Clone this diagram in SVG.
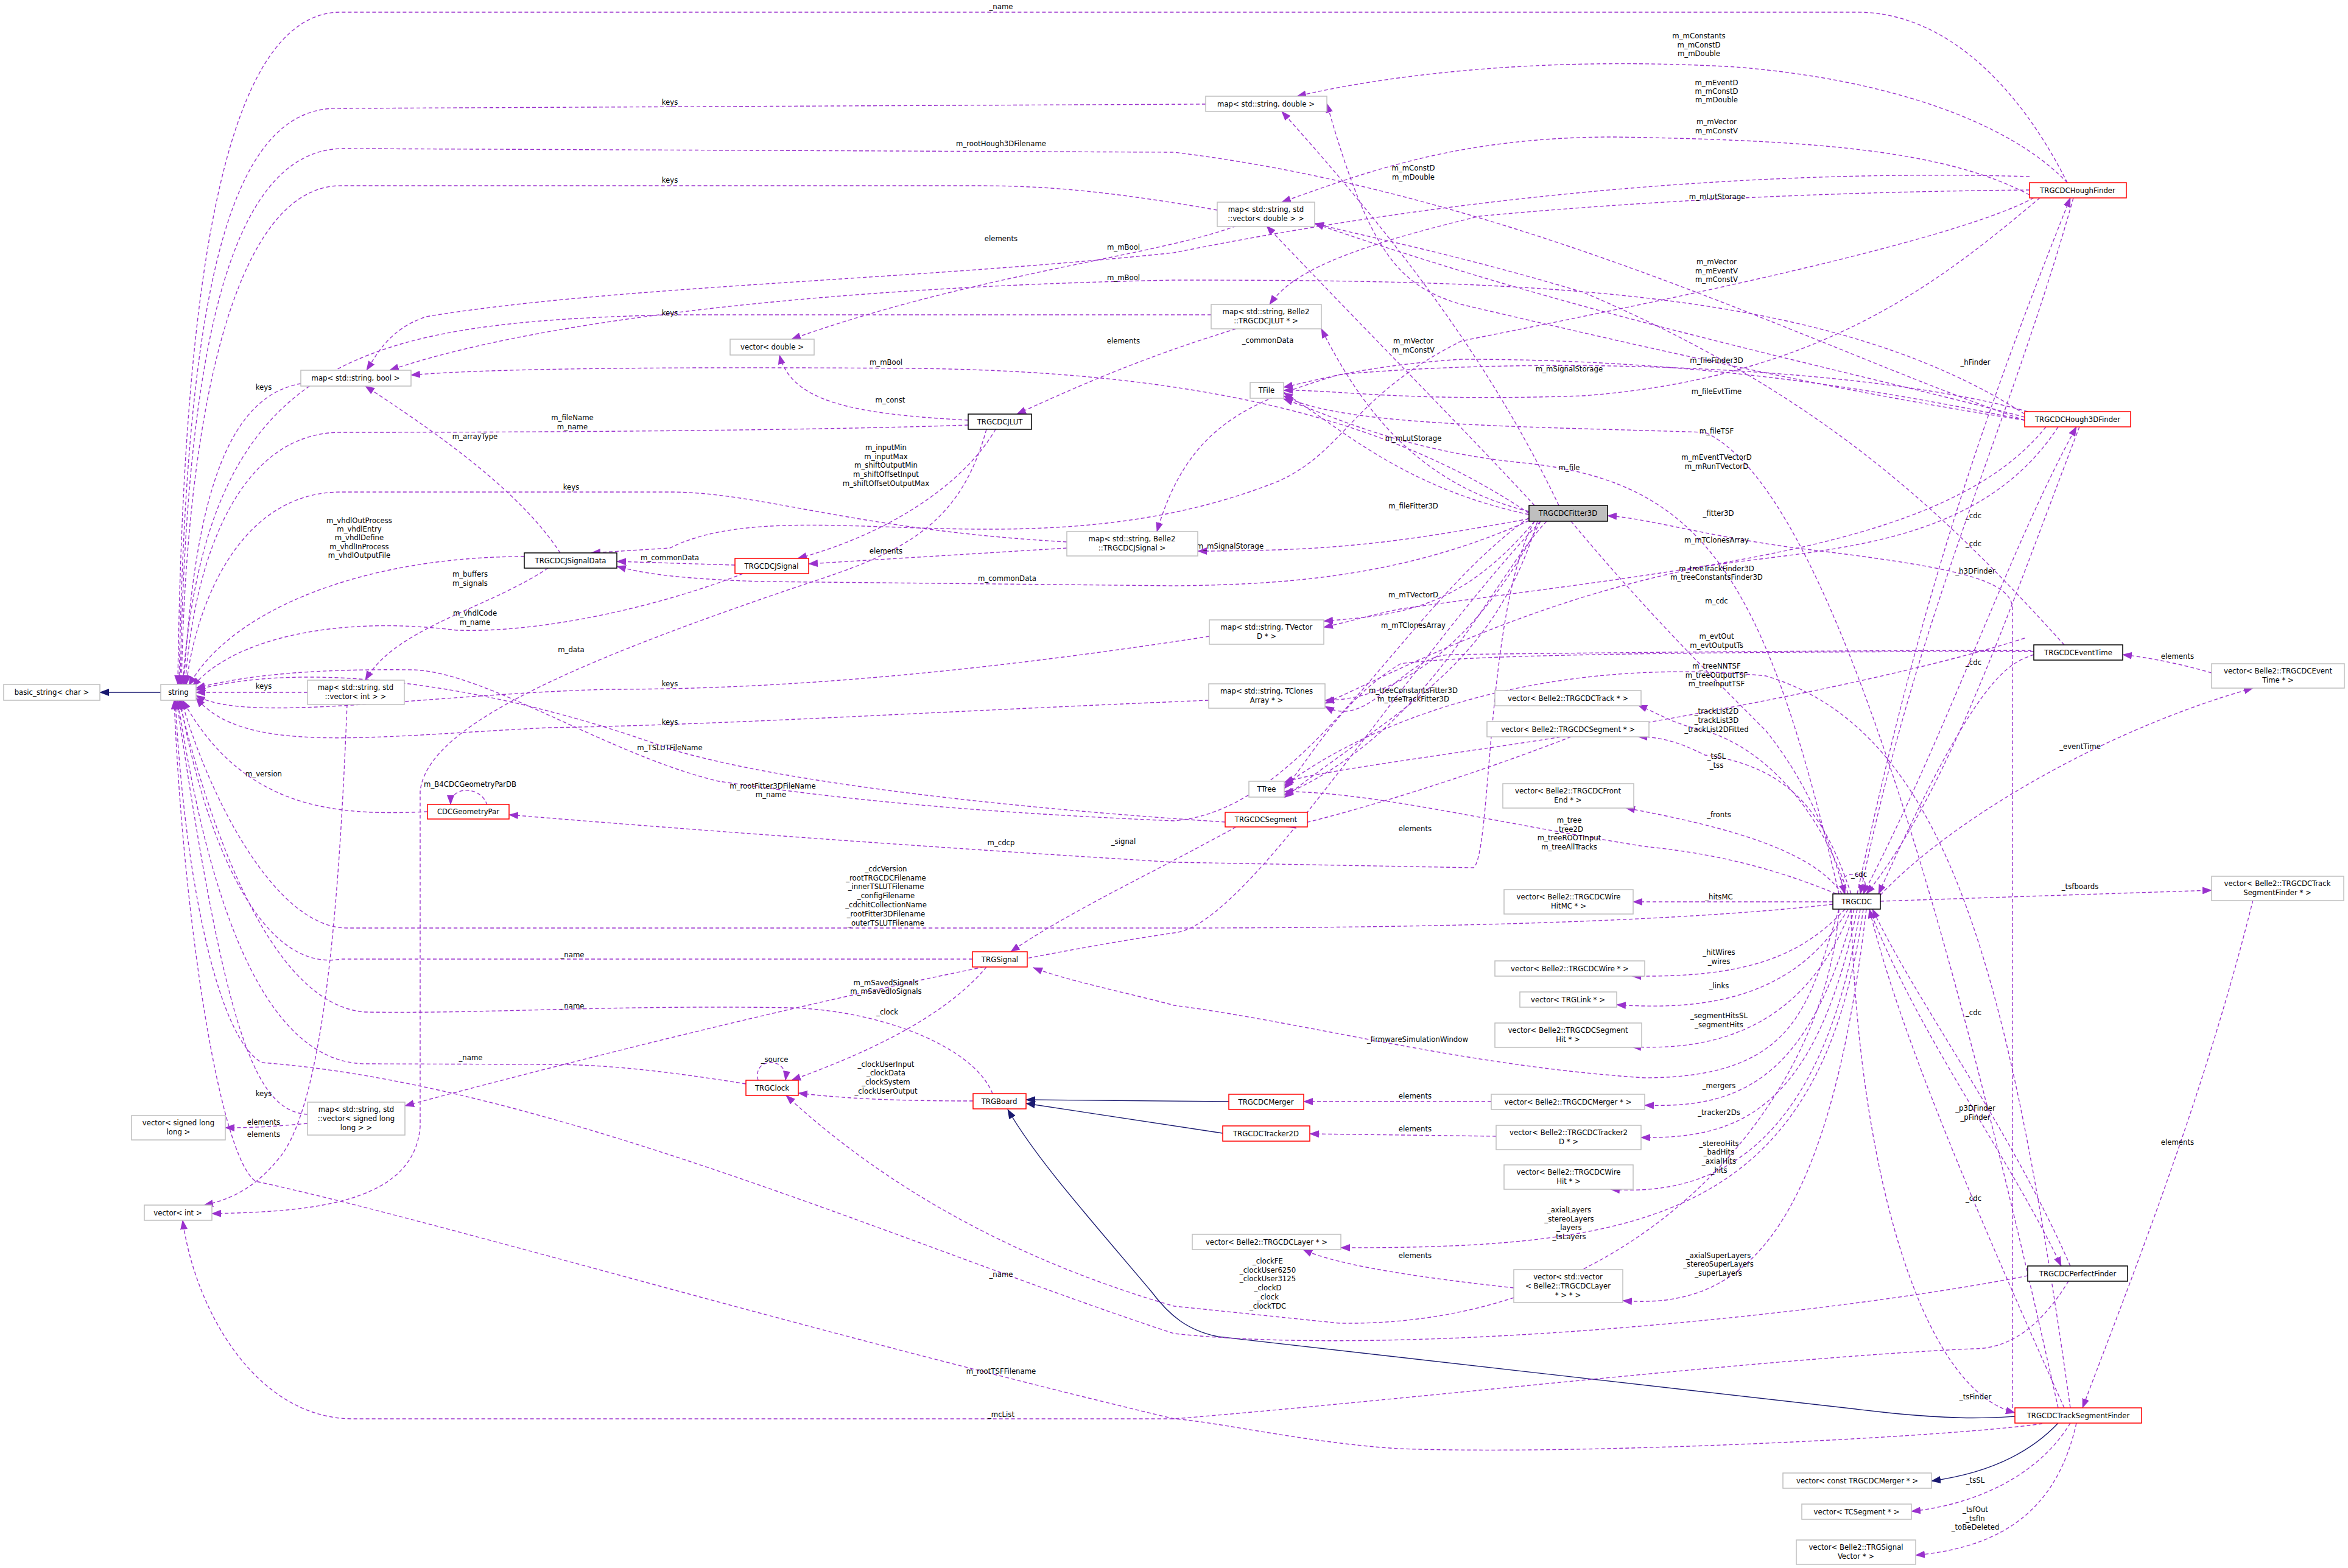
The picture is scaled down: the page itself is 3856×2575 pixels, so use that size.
<svg xmlns="http://www.w3.org/2000/svg" width="3856" height="2575" viewBox="0 0 3856 2575">
<style>
.n rect{fill:#fff;stroke:#bfbfbf;stroke-width:1.5}
.n.b rect{stroke:#000}
.n.r rect{stroke:#ff0000}
.n.g rect{fill:#bfbfbf;stroke:#000}
text{font-family:"DejaVu Sans Condensed","DejaVu Sans",sans-serif;font-size:13px;text-anchor:middle;fill:#000}
#edges path{fill:none;stroke:#9a32cd;stroke-width:1.4;stroke-dasharray:6,4;marker-end:url(#ap)}
#edges path.inh{stroke:#191970;stroke-dasharray:none;marker-end:url(#an)}
</style>
<defs>
<marker id="ap" markerUnits="userSpaceOnUse" markerWidth="16" markerHeight="12" refX="15" refY="6" orient="auto"><path d="M0,0 L16,6 L0,12 z" fill="#9a32cd"/></marker>
<marker id="an" markerUnits="userSpaceOnUse" markerWidth="16" markerHeight="12" refX="15" refY="6" orient="auto"><path d="M0,0 L16,6 L0,12 z" fill="#191970"/></marker>
</defs>
<rect width="3856" height="2575" fill="#fff"/>
<g id="edges">
<path class="inh" d="M264,1137 L164,1137"/>
<path class="inh" d="M2018,1809 L1685,1806"/>
<path class="inh" d="M2008,1861 L1685,1812"/>
<path class="inh" d="M3309,2326 C3250,2330 3200,2330 3100,2320 L2000,2195 C1950,2185 1920,2160 1890,2120 C1780,1990 1700,1900 1655,1822"/>
<path class="inh" d="M3380,2337 C3330,2390 3260,2420 3172,2432"/>
<path d="M3395,300 C3320,150 3200,20 3050,20 L560,20 C360,20 300,500 292,1124"/>
<path d="M1980,171 L560,178 C370,170 305,500 294,1124"/>
<path d="M3325,690 C3000,580 2500,320 1928,250 L560,244 C370,250 305,600 296,1124"/>
<path d="M1999,345 C1800,310 1700,305 1600,305 L560,305 C380,305 305,700 298,1124"/>
<path d="M1989,517 L1100,517 C600,530 340,580 300,1124"/>
<path d="M494,630 C380,650 320,800 302,1124"/>
<path d="M1590,698 C1400,705 1000,710 560,710 C400,710 320,900 304,1124"/>
<path d="M1752,890 C1400,870 1250,808 1100,808 L560,808 C390,808 320,1000 306,1124"/>
<path d="M861,914 C600,914 380,1000 310,1126"/>
<path d="M1220,942 C1100,990 900,1040 750,1035 C550,1010 380,1050 316,1128"/>
<path d="M505,1137 L322,1137"/>
<path d="M1986,1045 C1500,1120 1200,1132 1000,1132 C700,1140 400,1190 322,1142"/>
<path d="M1985,1150 C1500,1170 1200,1190 900,1195 C600,1210 400,1240 322,1146"/>
<path d="M2012,1350 C1700,1330 1300,1290 1100,1230 C800,1120 500,1085 322,1133"/>
<path d="M702,1333 C550,1340 400,1330 300,1150"/>
<path d="M2511,850 C2300,1000 2150,1330 1928,1348 C1500,1330 1300,1300 1180,1283 C1000,1240 800,1105 680,1100 C500,1098 400,1110 322,1130"/>
<path d="M3010,1485 C2700,1520 2200,1524 1928,1524 L570,1524 C450,1524 340,1300 298,1150"/>
<path d="M1597,1575 L560,1575 C420,1600 330,1350 296,1150"/>
<path d="M1630,1796 C1600,1720 1450,1660 1300,1655 C1000,1650 800,1665 600,1662 C430,1650 330,1300 294,1150"/>
<path d="M1225,1780 C1100,1760 1000,1748 900,1748 L600,1747 C410,1745 330,1400 292,1150"/>
<path d="M505,1830 C420,1825 370,1700 290,1150"/>
<path d="M3330,2095 C3000,2160 2300,2230 1928,2190 C1500,2050 900,1780 430,1745 C350,1700 300,1400 288,1150"/>
<path d="M3354,2338 C3200,2360 2600,2390 2297,2379 C2150,2370 2000,2335 1928,2330 C1300,2180 700,2000 420,1940 C360,1900 300,1500 286,1150"/>
<path d="M3397,2104 C3350,2180 3300,2215 3240,2215 C2900,2230 2300,2300 1928,2330 L580,2330 C420,2330 320,2150 300,2004"/>
<path d="M570,1157 C560,1400 540,1800 460,1900 C420,1950 380,1970 335,1979"/>
<path d="M1620,705 C1580,850 1500,900 1350,950 C900,1100 700,1200 690,1300 L690,1850 C680,1980 500,1990 348,1993"/>
<path d="M505,1845 C450,1850 420,1852 370,1852"/>
<path d="M2530,856 C2300,1100 2050,1520 1928,1532 C1600,1580 1100,1700 665,1816"/>
<path d="M800,1322 C790,1290 740,1290 740,1321"/>
<path d="M2520,856 C2440,1000 2450,1400 2420,1425 L1928,1416 C1500,1390 1100,1360 836,1338"/>
<path d="M2030,1358 C1900,1430 1750,1500 1660,1563"/>
<path d="M1620,1588 C1560,1660 1450,1720 1300,1774"/>
<path d="M1245,1774 C1235,1735 1295,1735 1290,1774"/>
<path d="M1598,1808 C1500,1808 1400,1806 1311,1795"/>
<path d="M3020,1493 C2970,1650 2950,1770 2700,1770 C2400,1750 2150,1680 1928,1651 C1850,1630 1750,1610 1697,1589"/>
<path d="M2580,1210 C2400,1280 2200,1340 2113,1358"/>
<path d="M3016,1468 C2900,1420 2800,1400 2700,1390 C2450,1350 2250,1300 2109,1300"/>
<path d="M2540,856 C2450,950 2350,1200 2109,1305"/>
<path d="M3340,1070 C2800,1070 2400,1075 2300,1090 C2200,1150 2150,1250 2109,1295"/>
<path d="M3400,2312 C3300,1600 3200,1200 2900,1110 C2600,1080 2300,1150 2109,1290"/>
<path d="M3325,1048 C3100,1120 2700,1190 2500,1220 C2300,1250 2150,1270 2109,1285"/>
<path d="M3040,1468 C3000,1350 2950,1260 2800,1240 C2760,1220 2730,1210 2690,1210"/>
<path d="M3035,1468 C2990,1330 2900,1230 2800,1200 C2750,1190 2720,1170 2690,1158"/>
<path d="M3025,1468 C2980,1400 2850,1360 2670,1327"/>
<path d="M3010,1481 L2682,1481"/>
<path d="M3088,1480 L3632,1462"/>
<path d="M3030,1493 C2950,1580 2850,1605 2680,1603"/>
<path d="M3035,1493 C2950,1640 2800,1660 2655,1650"/>
<path d="M3040,1493 C2960,1700 2800,1725 2680,1719"/>
<path d="M3045,1493 C2970,1780 2850,1820 2701,1815"/>
<path d="M3050,1493 C2980,1830 2850,1870 2695,1868"/>
<path d="M3055,1493 C2990,1900 2800,1965 2645,1953"/>
<path d="M3060,1493 C2990,2000 2700,2050 2202,2049"/>
<path d="M3065,1493 C3000,2050 2850,2150 2665,2136"/>
<path d="M2486,2115 C2350,2100 2200,2080 2140,2052"/>
<path d="M2449,1809 L2141,1809"/>
<path d="M2457,1866 L2151,1862"/>
<path d="M3070,1493 C3150,1700 3300,1900 3385,2079"/>
<path d="M3400,2079 C3300,1850 3150,1650 3075,1493"/>
<path d="M3390,2312 C3250,2000 3120,1700 3070,1493"/>
<path d="M3040,1493 C3050,1900 3150,2280 3309,2320"/>
<path d="M3700,1478 C3620,1800 3500,2100 3420,2312"/>
<path d="M3400,2337 C3350,2420 3250,2470 3139,2482"/>
<path d="M3410,2337 C3380,2470 3300,2540 3146,2554"/>
<path d="M3030,1468 C3000,1430 3080,1420 3060,1468"/>
<path d="M3088,1470 C3200,1350 3450,1200 3700,1130"/>
<path d="M3632,1105 C3580,1090 3530,1080 3486,1075"/>
<path d="M3390,1059 C3200,850 3000,650 2600,480 C2400,420 2250,390 2159,367"/>
<path d="M3340,1075 C3300,1090 3250,1100 3085,1468"/>
<path d="M3050,1468 C3150,1000 3250,700 3400,325"/>
<path d="M3405,325 C3300,700 3150,1000 3055,1468"/>
<path d="M3060,1468 C3200,1200 3300,900 3410,701"/>
<path d="M3415,701 C3300,1000 3200,1300 3065,1468"/>
<path d="M3305,2312 L3305,1000 C3305,950 3200,930 2950,900 C2800,880 2700,850 2640,847"/>
<path d="M2580,856 C2700,1000 2800,1100 2900,1200 C2980,1300 3010,1400 3030,1468"/>
<path d="M3395,300 C3300,200 3100,130 2850,110 C2500,90 2250,130 2130,158"/>
<path d="M3333,320 C3200,250 3000,230 2650,225 C2400,225 2250,280 2105,332"/>
<path d="M3333,290 C3000,280 2500,300 1928,415 C1500,460 1000,470 700,520 C640,540 620,580 602,608"/>
<path d="M3333,312 C3000,315 2700,330 2430,355 C2200,410 2120,450 2085,500"/>
<path d="M3350,325 C3200,450 3000,620 2600,650 C2300,660 2200,640 2108,641"/>
<path d="M3340,325 C3200,400 2700,500 2400,560 C2220,650 2210,740 2100,790 C1700,950 1300,800 1100,900 L971,908"/>
<path d="M3325,690 C3000,640 2700,570 2400,500 C2300,470 2250,420 2179,170"/>
<path d="M3325,685 C3000,600 2600,520 2159,367"/>
<path d="M3325,680 C3000,470 2500,460 1928,460 C1400,470 900,520 640,608"/>
<path d="M3325,690 C3000,620 2700,590 2400,590 C2250,600 2180,620 2108,636"/>
<path d="M3330,676 C3100,610 2600,580 2200,615 C2050,660 1950,700 1900,873"/>
<path d="M3360,701 C3200,900 2800,930 2300,1000 C2250,1010 2220,1020 2174,1030"/>
<path d="M3380,701 C3250,900 3000,900 2800,930 C2500,990 2300,1100 2176,1155"/>
<path d="M3486,1070 C3300,1065 2600,1072 2380,1075 C2300,1080 2250,1200 2176,1160"/>
<path d="M2560,830 C2450,600 2300,400 2105,183"/>
<path d="M2520,830 C2400,700 2250,550 2080,371"/>
<path d="M2511,840 C2350,800 2250,700 2170,540"/>
<path d="M2511,845 C2300,800 2200,700 2108,645"/>
<path d="M3380,2312 C3200,1500 3000,800 2800,710 C2500,700 2200,700 2108,650"/>
<path d="M3020,1468 C2900,950 2800,790 2500,760 C2300,740 2180,680 2108,655"/>
<path d="M2511,843 C2300,700 2000,610 1500,605 C1100,602 800,605 675,616"/>
<path d="M2511,852 C2300,890 2200,905 1967,905"/>
<path d="M2511,855 C2300,950 2100,960 1928,962 L1250,955 C1100,950 1050,940 1013,930"/>
<path d="M2030,540 C1900,580 1800,620 1670,680"/>
<path d="M2030,371 C1900,420 1600,450 1300,557"/>
<path d="M1590,690 C1400,680 1300,660 1280,583"/>
<path d="M1752,900 L1328,926"/>
<path d="M1635,705 C1580,800 1450,880 1310,917"/>
<path d="M1207,928 L1013,922"/>
<path d="M920,908 C850,800 700,700 600,634"/>
<path d="M900,933 C800,1000 650,1030 600,1117"/>
<path d="M2520,856 C2400,1000 2300,1010 2174,1020"/>
<path d="M2530,856 C2430,1050 2300,1150 2176,1150"/>
<path d="M2525,856 C2450,1100 2300,1160 2109,1310"/>
<path d="M3020,1493 C3000,1800 2700,2180 2200,2173 L1928,2145 C1600,2050 1400,1900 1291,1799"/>
</g>
<g id="labels">
<text x="1644" y="15">_name</text>
<text x="1100" y="172">keys</text>
<text x="1644" y="240">m_rootHough3DFilename</text>
<text x="1100" y="300">keys</text>
<text x="1100" y="518">keys</text>
<text x="433" y="640">keys</text>
<text x="940" y="690">m_fileName</text><text x="940" y="705">m_name</text>
<text x="780" y="721">m_arrayType</text>
<text x="938" y="804">keys</text>
<text x="590" y="859">m_vhdlOutProcess</text><text x="590" y="873">m_vhdlEntry</text><text x="590" y="887">m_vhdlDefine</text><text x="590" y="902">m_vhdlInProcess</text><text x="590" y="916">m_vhdlOutputFile</text>
<text x="772" y="947">m_buffers</text><text x="772" y="962">m_signals</text>
<text x="780" y="1011">m_vhdlCode</text><text x="780" y="1026">m_name</text>
<text x="938" y="1071">m_data</text>
<text x="433" y="1131">keys</text>
<text x="1100" y="1127">keys</text>
<text x="1100" y="1190">keys</text>
<text x="1100" y="1232">m_TSLUTFileName</text>
<text x="433" y="1275">m_version</text>
<text x="772" y="1292">m_B4CDCGeometryParDB</text>
<text x="1269" y="1295">m_rootFitter3DFileName</text><text x="1266" y="1309">m_name</text>
<text x="1644" y="1388">m_cdcp</text>
<text x="1845" y="1386">_signal</text>
<text x="1455" y="1431">_cdcVersion</text><text x="1455" y="1446">_rootTRGCDCFilename</text><text x="1455" y="1460">_innerTSLUTFilename</text><text x="1455" y="1475">_configFilename</text><text x="1455" y="1490">_cdchitCollectionName</text><text x="1455" y="1505">_rootFitter3DFilename</text><text x="1455" y="1520">_outerTSLUTFilename</text>
<text x="940" y="1572">_name</text>
<text x="1455" y="1618">m_mSavedSignals</text><text x="1455" y="1632">m_mSavedIoSignals</text>
<text x="940" y="1656">_name</text>
<text x="1457" y="1666">_clock</text>
<text x="773" y="1741">_name</text>
<text x="1272" y="1744">_source</text>
<text x="1455" y="1752">_clockUserInput</text><text x="1455" y="1766">_clockData</text><text x="1455" y="1781">_clockSystem</text><text x="1455" y="1796">_clockUserOutput</text>
<text x="433" y="1800">keys</text>
<text x="433" y="1847">elements</text>
<text x="433" y="1867">elements</text>
<text x="1644" y="2097">_name</text>
<text x="1644" y="2256">m_rootTSFFilename</text>
<text x="1644" y="2327">_mcList</text>
<text x="2790" y="63">m_mConstants</text><text x="2790" y="78">m_mConstD</text><text x="2790" y="92">m_mDouble</text>
<text x="2819" y="140">m_mEventD</text><text x="2819" y="154">m_mConstD</text><text x="2819" y="168">m_mDouble</text>
<text x="2819" y="204">m_mVector</text><text x="2819" y="219">m_mConstV</text>
<text x="2321" y="280">m_mConstD</text><text x="2321" y="295">m_mDouble</text>
<text x="2820" y="327">m_mLutStorage</text>
<text x="1845" y="410">m_mBool</text>
<text x="1644" y="396">elements</text>
<text x="2819" y="434">m_mVector</text><text x="2819" y="449">m_mEventV</text><text x="2819" y="463">m_mConstV</text>
<text x="1845" y="460">m_mBool</text>
<text x="1845" y="564">elements</text>
<text x="2082" y="563">_commonData</text>
<text x="2321" y="564">m_mVector</text><text x="2321" y="579">m_mConstV</text>
<text x="3244" y="599">_hFinder</text>
<text x="2819" y="596">m_fileFinder3D</text>
<text x="1455" y="599">m_mBool</text>
<text x="2577" y="610">m_mSignalStorage</text>
<text x="2819" y="647">m_fileEvtTime</text>
<text x="1462" y="661">m_const</text>
<text x="2819" y="712">m_fileTSF</text>
<text x="2321" y="724">m_mLutStorage</text>
<text x="1455" y="739">m_inputMin</text><text x="1455" y="754">m_inputMax</text><text x="1455" y="768">m_shiftOutputMin</text><text x="1455" y="783">m_shiftOffsetInput</text><text x="1455" y="798">m_shiftOffsetOutputMax</text>
<text x="2819" y="755">m_mEventTVectorD</text><text x="2819" y="770">m_mRunTVectorD</text>
<text x="2577" y="772">m_file</text>
<text x="2321" y="835">m_fileFitter3D</text>
<text x="2822" y="847">_fitter3D</text>
<text x="3241" y="851">_cdc</text>
<text x="2819" y="891">m_mTClonesArray</text>
<text x="3241" y="897">_cdc</text>
<text x="2020" y="901">m_mSignalStorage</text>
<text x="1455" y="909">elements</text>
<text x="1100" y="920">m_commonData</text>
<text x="2819" y="938">m_treeTrackFinder3D</text><text x="2819" y="952">m_treeConstantsFinder3D</text>
<text x="3244" y="942">_h3DFinder</text>
<text x="1654" y="954">m_commonData</text>
<text x="2321" y="981">m_mTVectorD</text>
<text x="2819" y="991">m_cdc</text>
<text x="2321" y="1031">m_mTClonesArray</text>
<text x="2819" y="1049">m_evtOut</text><text x="2819" y="1064">m_evtOutputTs</text>
<text x="3576" y="1082">elements</text>
<text x="3241" y="1092">_cdc</text>
<text x="2819" y="1098">m_treeNNTSF</text><text x="2819" y="1113">m_treeOutputTSF</text><text x="2819" y="1127">m_treeInputTSF</text>
<text x="2321" y="1138">m_treeConstantsFitter3D</text><text x="2321" y="1152">m_treeTrackFitter3D</text>
<text x="2819" y="1172">_trackList2D</text><text x="2819" y="1187">_trackList3D</text><text x="2819" y="1202">_trackList2DFitted</text>
<text x="3416" y="1230">_eventTime</text>
<text x="2819" y="1246">_tsSL</text><text x="2819" y="1261">_tss</text>
<text x="2823" y="1342">_fronts</text>
<text x="2577" y="1351">m_tree</text><text x="2577" y="1366">_tree2D</text><text x="2577" y="1380">m_treeROOTInput</text><text x="2577" y="1395">m_treeAllTracks</text>
<text x="2324" y="1365">elements</text>
<text x="3053" y="1440">_cdc</text>
<text x="3416" y="1460">_tsfboards</text>
<text x="2823" y="1477">_hitsMC</text>
<text x="2823" y="1568">_hitWires</text><text x="2823" y="1583">_wires</text>
<text x="2823" y="1623">_links</text>
<text x="3241" y="1667">_cdc</text>
<text x="2823" y="1672">_segmentHitsSL</text><text x="2823" y="1687">_segmentHits</text>
<text x="2328" y="1711">_firmwareSimulationWindow</text>
<text x="2823" y="1787">_mergers</text>
<text x="2324" y="1804">elements</text>
<text x="3244" y="1824">_p3DFinder</text><text x="3244" y="1839">_pFinder</text>
<text x="2823" y="1831">_tracker2Ds</text>
<text x="2324" y="1858">elements</text>
<text x="3576" y="1880">elements</text>
<text x="2823" y="1882">_stereoHits</text><text x="2823" y="1896">_badHits</text><text x="2823" y="1911">_axialHits</text><text x="2823" y="1926">_hits</text>
<text x="3241" y="1972">_cdc</text>
<text x="2577" y="1991">_axialLayers</text><text x="2577" y="2006">_stereoLayers</text><text x="2577" y="2020">_layers</text><text x="2577" y="2035">_tsLayers</text>
<text x="2324" y="2066">elements</text>
<text x="2822" y="2066">_axialSuperLayers</text><text x="2822" y="2080">_stereoSuperLayers</text><text x="2822" y="2095">_superLayers</text>
<text x="2082" y="2075">_clockFE</text><text x="2082" y="2090">_clockUser6250</text><text x="2082" y="2104">_clockUser3125</text><text x="2082" y="2119">_clockD</text><text x="2082" y="2134">_clock</text><text x="2082" y="2149">_clockTDC</text>
<text x="3244" y="2298">_tsFinder</text>
<text x="3244" y="2435">_tsSL</text>
<text x="3244" y="2483">_tsfOut</text><text x="3244" y="2498">_tsfIn</text><text x="3244" y="2512">_toBeDeleted</text>
</g>
<g id="n_basic_string" class="n"><rect x="6" y="1124" width="158" height="26"/><text x="85" y="1141">basic_string&lt; char &gt;</text></g>
<g id="n_string" class="n"><rect x="264" y="1124" width="58" height="26"/><text x="293" y="1141">string</text></g>
<g id="n_map_bool" class="n"><rect x="494" y="608" width="181" height="26"/><text x="584" y="625">map&lt; std::string, bool &gt;</text></g>
<g id="n_vec_double" class="n"><rect x="1199" y="557" width="138" height="26"/><text x="1268" y="574">vector&lt; double &gt;</text></g>
<g id="n_jlut" class="n b"><rect x="1590" y="680" width="104" height="25"/><text x="1642" y="697">TRGCDCJLUT</text></g>
<g id="n_jsigdata" class="n b"><rect x="861" y="908" width="152" height="25"/><text x="937" y="925">TRGCDCJSignalData</text></g>
<g id="n_jsig" class="n r"><rect x="1207" y="917" width="121" height="25"/><text x="1267" y="934">TRGCDCJSignal</text></g>
<g id="n_map_jsig" class="n"><rect x="1752" y="873" width="215" height="40"/><text x="1859" y="889">map&lt; std::string, Belle2</text><text x="1859" y="904">::TRGCDCJSignal &gt;</text></g>
<g id="n_map_vint" class="n"><rect x="505" y="1117" width="159" height="40"/><text x="584" y="1133">map&lt; std::string, std</text><text x="584" y="1148">::vector&lt; int &gt; &gt;</text></g>
<g id="n_map_double" class="n"><rect x="1980" y="158" width="199" height="25"/><text x="2079" y="175">map&lt; std::string, double &gt;</text></g>
<g id="n_map_vdouble" class="n"><rect x="1999" y="332" width="160" height="40"/><text x="2079" y="348">map&lt; std::string, std</text><text x="2079" y="363">::vector&lt; double &gt; &gt;</text></g>
<g id="n_map_jlut" class="n"><rect x="1989" y="500" width="181" height="40"/><text x="2079" y="516">map&lt; std::string, Belle2</text><text x="2079" y="531">::TRGCDCJLUT * &gt;</text></g>
<g id="n_tfile" class="n"><rect x="2053" y="628" width="55" height="26"/><text x="2080" y="645">TFile</text></g>
<g id="n_fitter3d" class="n g"><rect x="2511" y="830" width="129" height="26"/><text x="2575" y="847">TRGCDCFitter3D</text></g>
<g id="n_hf" class="n r"><rect x="3333" y="300" width="159" height="25"/><text x="3412" y="317">TRGCDCHoughFinder</text></g>
<g id="n_h3d" class="n r"><rect x="3325" y="676" width="174" height="25"/><text x="3412" y="693">TRGCDCHough3DFinder</text></g>
<g id="n_map_tvec" class="n"><rect x="1986" y="1018" width="188" height="40"/><text x="2080" y="1034">map&lt; std::string, TVector</text><text x="2080" y="1049">D * &gt;</text></g>
<g id="n_map_tclones" class="n"><rect x="1985" y="1123" width="191" height="40"/><text x="2080" y="1139">map&lt; std::string, TClones</text><text x="2080" y="1154">Array * &gt;</text></g>
<g id="n_evttime" class="n b"><rect x="3340" y="1059" width="146" height="25"/><text x="3413" y="1076">TRGCDCEventTime</text></g>
<g id="n_vec_evttime" class="n"><rect x="3632" y="1090" width="218" height="40"/><text x="3741" y="1106">vector&lt; Belle2::TRGCDCEvent</text><text x="3741" y="1121">Time * &gt;</text></g>
<g id="n_vec_track" class="n"><rect x="2455" y="1134" width="240" height="25"/><text x="2575" y="1151">vector&lt; Belle2::TRGCDCTrack * &gt;</text></g>
<g id="n_vec_segment" class="n"><rect x="2442" y="1185" width="266" height="25"/><text x="2575" y="1202">vector&lt; Belle2::TRGCDCSegment * &gt;</text></g>
<g id="n_cdcgeom" class="n r"><rect x="702" y="1321" width="134" height="24"/><text x="769" y="1337">CDCGeometryPar</text></g>
<g id="n_trgsignal" class="n r"><rect x="1597" y="1563" width="90" height="25"/><text x="1642" y="1580">TRGSignal</text></g>
<g id="n_trgclock" class="n r"><rect x="1225" y="1774" width="86" height="25"/><text x="1268" y="1791">TRGClock</text></g>
<g id="n_trgboard" class="n r"><rect x="1598" y="1796" width="87" height="25"/><text x="1641" y="1813">TRGBoard</text></g>
<g id="n_vec_sll" class="n"><rect x="216" y="1832" width="154" height="40"/><text x="293" y="1848">vector&lt; signed long</text><text x="293" y="1863">long &gt;</text></g>
<g id="n_map_vsll" class="n"><rect x="505" y="1810" width="160" height="54"/><text x="585" y="1826">map&lt; std::string, std</text><text x="585" y="1841">::vector&lt; signed long</text><text x="585" y="1856">long &gt; &gt;</text></g>
<g id="n_vec_int" class="n"><rect x="237" y="1979" width="111" height="25"/><text x="292" y="1996">vector&lt; int &gt;</text></g>
<g id="n_ttree" class="n"><rect x="2051" y="1283" width="58" height="26"/><text x="2080" y="1300">TTree</text></g>
<g id="n_vec_frontend" class="n"><rect x="2468" y="1287" width="215" height="40"/><text x="2575" y="1303">vector&lt; Belle2::TRGCDCFront</text><text x="2575" y="1318">End * &gt;</text></g>
<g id="n_segment" class="n r"><rect x="2012" y="1334" width="135" height="24"/><text x="2079" y="1350">TRGCDCSegment</text></g>
<g id="n_trgcdc" class="n b"><rect x="3010" y="1468" width="78" height="25"/><text x="3049" y="1485">TRGCDC</text></g>
<g id="n_vec_wirehitmc" class="n"><rect x="2470" y="1461" width="212" height="40"/><text x="2576" y="1477">vector&lt; Belle2::TRGCDCWire</text><text x="2576" y="1492">HitMC * &gt;</text></g>
<g id="n_vec_tsf" class="n"><rect x="3632" y="1439" width="217" height="40"/><text x="3740" y="1455">vector&lt; Belle2::TRGCDCTrack</text><text x="3740" y="1470">SegmentFinder * &gt;</text></g>
<g id="n_vec_wire" class="n"><rect x="2455" y="1578" width="246" height="25"/><text x="2578" y="1595">vector&lt; Belle2::TRGCDCWire * &gt;</text></g>
<g id="n_vec_link" class="n"><rect x="2496" y="1629" width="159" height="25"/><text x="2575" y="1646">vector&lt; TRGLink * &gt;</text></g>
<g id="n_vec_seghit" class="n"><rect x="2455" y="1680" width="241" height="40"/><text x="2575" y="1696">vector&lt; Belle2::TRGCDCSegment</text><text x="2575" y="1711">Hit * &gt;</text></g>
<g id="n_merger" class="n r"><rect x="2018" y="1797" width="123" height="25"/><text x="2079" y="1814">TRGCDCMerger</text></g>
<g id="n_vec_merger" class="n"><rect x="2449" y="1797" width="252" height="25"/><text x="2575" y="1814">vector&lt; Belle2::TRGCDCMerger * &gt;</text></g>
<g id="n_tracker2d" class="n r"><rect x="2008" y="1849" width="143" height="25"/><text x="2079" y="1866">TRGCDCTracker2D</text></g>
<g id="n_vec_tracker2d" class="n"><rect x="2457" y="1848" width="238" height="40"/><text x="2576" y="1864">vector&lt; Belle2::TRGCDCTracker2</text><text x="2576" y="1879">D * &gt;</text></g>
<g id="n_vec_wirehit" class="n"><rect x="2470" y="1913" width="212" height="40"/><text x="2576" y="1929">vector&lt; Belle2::TRGCDCWire</text><text x="2576" y="1944">Hit * &gt;</text></g>
<g id="n_vec_layer" class="n"><rect x="1958" y="2027" width="244" height="25"/><text x="2080" y="2044">vector&lt; Belle2::TRGCDCLayer * &gt;</text></g>
<g id="n_vec_vlayer" class="n"><rect x="2486" y="2085" width="179" height="54"/><text x="2575" y="2101">vector&lt; std::vector</text><text x="2575" y="2116">&lt; Belle2::TRGCDCLayer</text><text x="2575" y="2131">* &gt; * &gt;</text></g>
<g id="n_perfect" class="n b"><rect x="3330" y="2079" width="164" height="25"/><text x="3412" y="2096">TRGCDCPerfectFinder</text></g>
<g id="n_tsf" class="n r"><rect x="3309" y="2312" width="208" height="25"/><text x="3413" y="2329">TRGCDCTrackSegmentFinder</text></g>
<g id="n_vec_cmerger" class="n"><rect x="2928" y="2419" width="244" height="25"/><text x="3050" y="2436">vector&lt; const TRGCDCMerger * &gt;</text></g>
<g id="n_vec_tcseg" class="n"><rect x="2959" y="2470" width="180" height="25"/><text x="3049" y="2487">vector&lt; TCSegment * &gt;</text></g>
<g id="n_vec_sigvec" class="n"><rect x="2950" y="2529" width="196" height="40"/><text x="3048" y="2545">vector&lt; Belle2::TRGSignal</text><text x="3048" y="2560">Vector * &gt;</text></g>
</svg>
